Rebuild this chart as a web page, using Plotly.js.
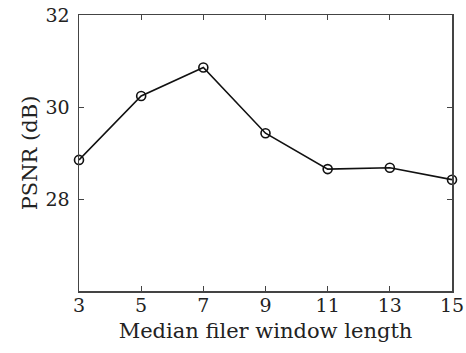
<!DOCTYPE html>
<html>
<head>
<meta charset="utf-8">
<script src="https://cdn.plot.ly/plotly-3.0.1.min.js"></script>
<style>html,body{margin:0;padding:0;background:#fff;}#chart{width:466px;height:353px;}</style>
</head>
<body>
<div id="chart"></div>
<script>
const windowLengths = [3, 5, 7, 9, 11, 13, 15];
const psnr = [28.85, 30.24, 30.86, 29.43, 28.65, 28.68, 28.42];
const xTicks = [3, 5, 7, 9, 11, 13, 15];
const yTicks = [28, 30, 32];

const font = {family: 'DejaVu Serif, Liberation Serif, serif', size: 19, color: '#222'};
const titleFont = {family: 'DejaVu Serif, Liberation Serif, serif', size: 21, color: '#222'};

Plotly.newPlot('chart', [{
  x: windowLengths,
  y: psnr,
  type: 'scatter',
  mode: 'lines+markers',
  line: {color: '#111', width: 1.6},
  marker: {symbol: 'circle-open', size: 9, color: '#111', line: {width: 1.6, color: '#111'}},
  cliponaxis: false,
  showlegend: false
}], {
  width: 466, height: 353,
  margin: {l: 79, r: 14, t: 15, b: 62},
  paper_bgcolor: '#fff', plot_bgcolor: '#fff',
  font: font,
  xaxis: {
    range: [3, 15], tickvals: xTicks, ticktext: xTicks.map(String),
    ticks: 'inside', ticklen: 5, tickcolor: '#444', showgrid: false, zeroline: false,
    showline: true, linecolor: '#444', linewidth: 1.5, mirror: 'ticks',
    tickfont: font, ticklabelstandoff: -3,
    title: {text: 'Median filer window length', font: titleFont, standoff: 8}
  },
  yaxis: {
    range: [26, 32], tickvals: yTicks, ticktext: yTicks.map(String),
    ticks: 'inside', ticklen: 5, tickcolor: '#444', showgrid: false, zeroline: false,
    showline: true, linecolor: '#444', linewidth: 1.5, mirror: 'ticks',
    tickfont: font, ticklabelstandoff: 4,
    title: {text: 'PSNR (dB)', font: titleFont, standoff: 2}
  }
}, {displayModeBar: false, staticPlot: true});
</script>
</body>
</html>
